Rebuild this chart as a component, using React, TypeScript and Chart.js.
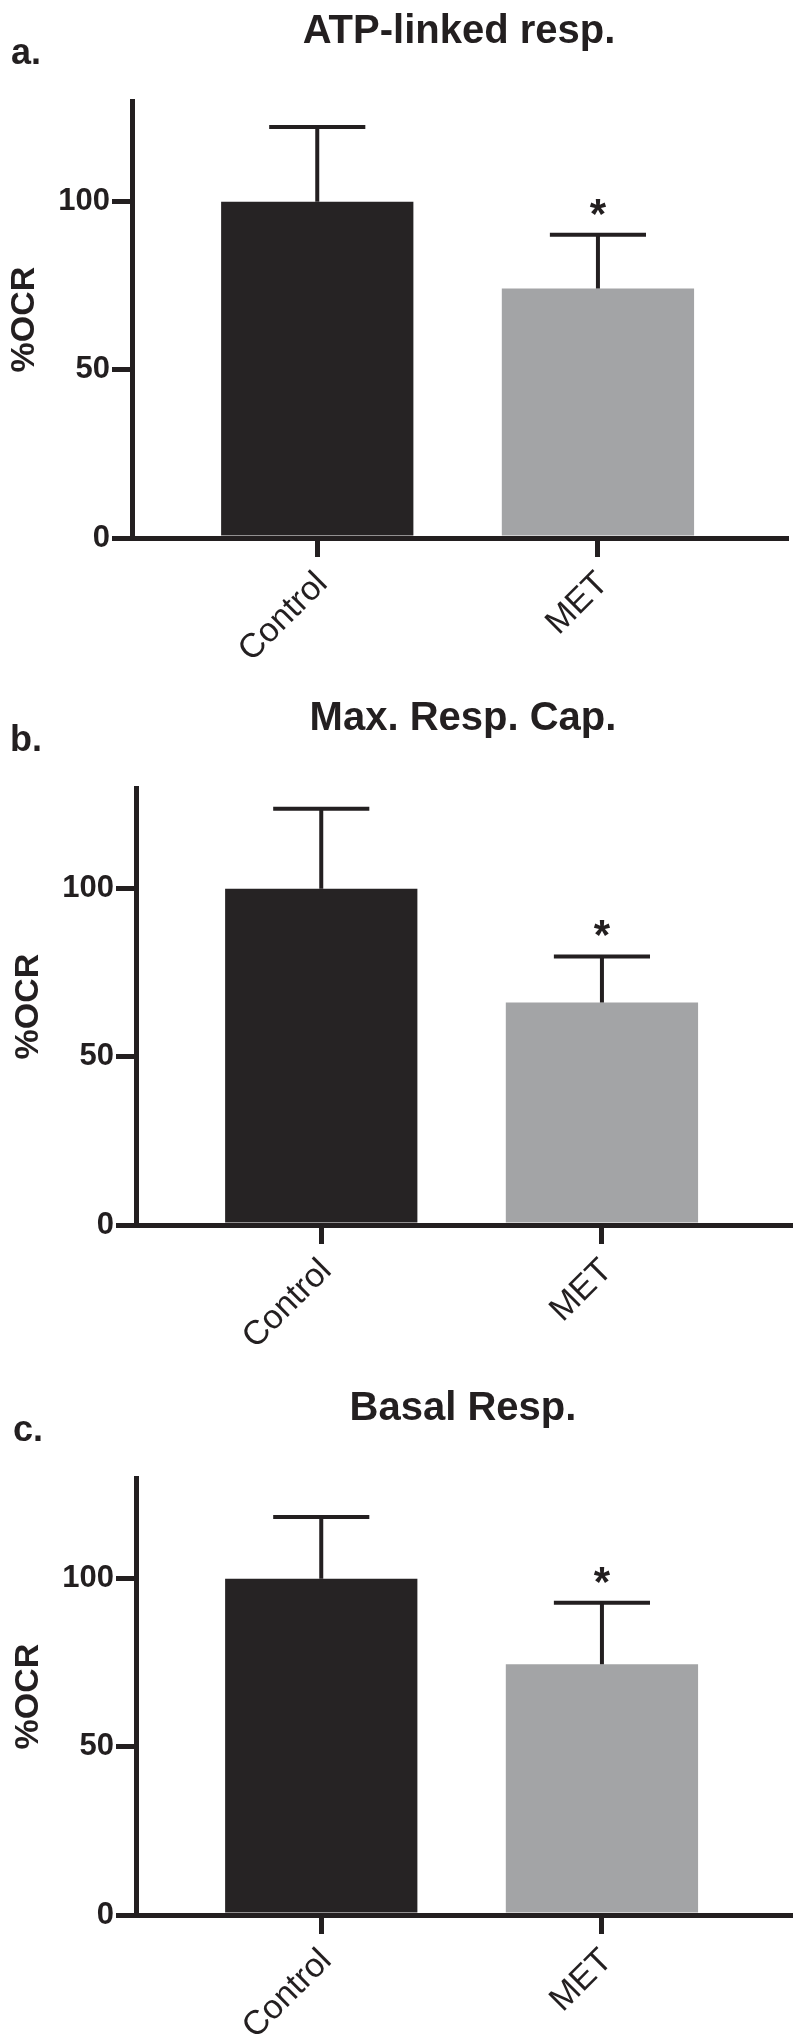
import React, { useEffect, useRef } from 'react';
import { Chart, registerables } from 'chart.js';

Chart.register(...registerables);

// ---- data ----
const categories = ['Control', 'MET'];
const panelLetters = ['a.', 'b.', 'c.'];
const panelTitles = ['ATP-linked resp.', 'Max. Resp. Cap.', 'Basal Resp.'];
const atpMeans = [100, 74.2];
const atpErrors = [22.3, 16.0];
const maxMeans = [100, 66.2];
const maxErrors = [23.8, 13.7];
const basalMeans = [100, 74.6];
const basalErrors = [18.4, 18.3];
const significance = ['', '*'];
const yTickValues = [0, 50, 100];
const yAxisMax = 130;
const yAxisTitle = '%OCR';

// ---- styles ----
const INK = '#231f20';
const BAR_COLORS = ['#262324', '#a3a4a6'];
const FONT = "'Liberation Sans', Arial, Helvetica, sans-serif";
const CANVAS_H = 662;

type PanelSpec = {
  letter: string;
  title: string;
  means: number[];
  errors: number[];
  top: number;
  left: number;
  letterX: number;
};

const panels: PanelSpec[] = [
  { letter: panelLetters[0], title: panelTitles[0], means: atpMeans, errors: atpErrors, top: -2, left: -4, letterX: 15 },
  { letter: panelLetters[1], title: panelTitles[1], means: maxMeans, errors: maxErrors, top: 685, left: 0, letterX: 10 },
  { letter: panelLetters[2], title: panelTitles[2], means: basalMeans, errors: basalErrors, top: 1375, left: 0, letterX: 13 },
];

function Panel({ spec }: { spec: PanelSpec }) {
  const ref = useRef<HTMLCanvasElement>(null);

  useEffect(() => {
    const canvas = ref.current;
    if (!canvas) return;

    const errorBars = {
      id: 'errorBars',
      afterDatasetsDraw(chart: any) {
        const ctx = chart.ctx;
        const yScale = chart.scales.y;
        const meta = chart.getDatasetMeta(0);
        ctx.save();
        meta.data.forEach((bar: any, i: number) => {
          const p = bar.getProps(['x', 'y', 'width'], true);
          const yTop = yScale.getPixelForValue(spec.means[i] + spec.errors[i]);
          const half = p.width / 4;
          ctx.strokeStyle = INK;
          ctx.lineWidth = 4;
          ctx.lineCap = 'butt';
          ctx.beginPath();
          ctx.moveTo(p.x, p.y);
          ctx.lineTo(p.x, yTop);
          ctx.moveTo(p.x - half, yTop);
          ctx.lineTo(p.x + half, yTop);
          ctx.stroke();
          if (significance[i]) {
            ctx.fillStyle = INK;
            ctx.font = `bold 42px ${FONT}`;
            ctx.textAlign = 'center';
            ctx.textBaseline = 'alphabetic';
            ctx.fillText(significance[i], p.x, yTop - 7);
          }
        });
        ctx.restore();
      },
    };

    const letterPlugin = {
      id: 'panelLetter',
      afterDraw(chart: any) {
        const ctx = chart.ctx;
        ctx.save();
        ctx.fillStyle = INK;
        ctx.font = `bold 36px ${FONT}`;
        ctx.textAlign = 'left';
        ctx.textBaseline = 'alphabetic';
        ctx.fillText(spec.letter, spec.letterX, 66);
        ctx.restore();
      },
    };

    const chart = new Chart(canvas, {
      type: 'bar',
      data: {
        datasets: [
          {
            data: spec.means.map((m, i) => ({ x: i, y: m })),
            backgroundColor: BAR_COLORS,
            borderWidth: 0,
            barPercentage: 0.685,
            categoryPercentage: 1,
          } as any,
        ],
      },
      options: {
        animation: false,
        responsive: false,
        devicePixelRatio: 1,
        layout: { padding: { left: 8, right: 10, top: 0, bottom: 0 } },
        plugins: {
          legend: { display: false },
          tooltip: { enabled: false },
          title: {
            display: true,
            text: spec.title,
            fullSize: false,
            color: INK,
            font: { family: FONT, size: 40, weight: 'bold' },
            padding: { top: 10, bottom: 45 },
          },
        },
        scales: {
          x: {
            type: 'linear',
            offset: false,
            min: -0.66,
            max: 1.67,
            afterBuildTicks: (s: any) => {
              s.ticks = categories.map((_, i) => ({ value: i }));
            },
            afterFit: (s: any) => {
              s.height = 122;
            },
            grid: { offset: false, drawOnChartArea: false, drawTicks: true, tickLength: 19, lineWidth: 5, color: INK },
            border: { display: true, width: 5, color: INK },
            ticks: {
              autoSkip: false,
              minRotation: 45,
              maxRotation: 45,
              padding: 7,
              labelOffset: 5,
              color: INK,
              font: { family: FONT, size: 34 },
              callback: (v: any) => categories[Math.round(Number(v))] ?? '',
            },
          } as any,
          y: {
            min: 0,
            max: yAxisMax,
            afterBuildTicks: (s: any) => {
              s.ticks = yTickValues.map((v) => ({ value: v }));
            },
            afterFit: (s: any) => {
              s.width = 128;
            },
            grid: { drawOnChartArea: false, drawTicks: true, tickLength: 20, lineWidth: 5, color: INK },
            border: { display: true, width: 5, color: INK },
            ticks: {
              padding: 2,
              color: INK,
              font: { family: FONT, size: 31, weight: 'bold' },
            },
            title: {
              display: true,
              text: yAxisTitle,
              color: INK,
              font: { family: FONT, size: 34, weight: 'bold' },
              padding: { top: 0, bottom: 0 },
            },
          } as any,
        },
      },
      plugins: [errorBars, letterPlugin],
    });

    return () => chart.destroy();
  }, [spec]);

  return (
    <canvas
      ref={ref}
      width={800}
      height={CANVAS_H}
      style={{ position: 'absolute', left: spec.left, top: spec.top, width: 800, height: CANVAS_H }}
    />
  );
}

export default function App() {
  return (
    <div
      style={{
        position: 'absolute',
        left: 0,
        top: 0,
        width: 800,
        height: 2037,
        overflow: 'hidden',
        background: '#ffffff',
      }}
    >
      {panels.map((p) => (
        <Panel key={p.letter} spec={p} />
      ))}
    </div>
  );
}
